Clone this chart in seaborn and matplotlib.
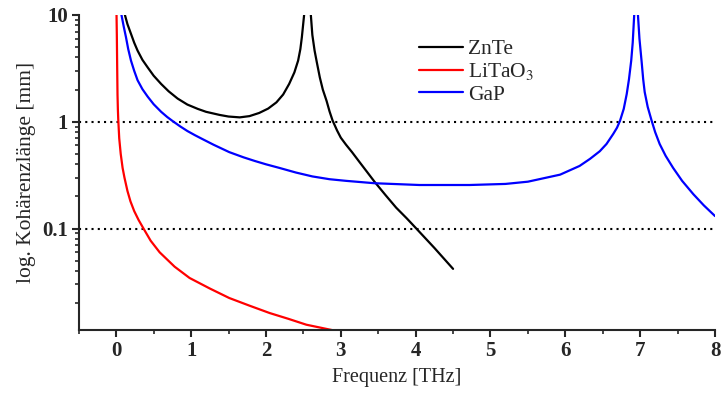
import numpy as np
import pandas as pd
import matplotlib
matplotlib.use("Agg")
import matplotlib.pyplot as plt
import seaborn as sns
from matplotlib.ticker import FixedLocator, FixedFormatter, LogLocator, NullFormatter, MultipleLocator

# ZnTe: two branches around the pole near 2.55 THz
znte_f1 = [0.116, 0.15, 0.197, 0.24, 0.285, 0.35, 0.42, 0.50, 0.60, 0.70, 0.82, 0.95, 1.09, 1.20,
           1.38, 1.50, 1.65, 1.78, 1.91, 2.03, 2.14, 2.23, 2.31, 2.38, 2.43, 2.46, 2.48, 2.51]
znte_l1 = [10.0, 8.2, 6.66, 5.5, 4.64, 3.8, 3.23, 2.7, 2.26, 1.93, 1.65, 1.45, 1.32, 1.24,
           1.16, 1.12, 1.10, 1.13, 1.21, 1.33, 1.52, 1.8, 2.26, 2.9, 3.74, 4.8, 6.2, 10.0]
znte_f2 = [2.60, 2.62, 2.65, 2.68, 2.72, 2.76, 2.81, 2.85, 2.89, 2.95, 3.00, 3.07, 3.15, 3.25,
           3.35, 3.45, 3.60, 3.74, 3.88, 4.01, 4.25, 4.50]
znte_l2 = [10.0, 6.5, 4.64, 3.6, 2.6, 2.0, 1.57, 1.25, 1.03, 0.83, 0.71, 0.61, 0.52, 0.42,
           0.34, 0.275, 0.205, 0.157, 0.125, 0.10, 0.066, 0.042]

# LiTaO3
lt_f = [0.004, 0.008, 0.012, 0.017, 0.022, 0.027, 0.04, 0.06, 0.085, 0.11, 0.15, 0.19, 0.24,
        0.30, 0.365, 0.46, 0.58, 0.78, 0.98, 1.25, 1.51, 1.78, 2.05, 2.3, 2.54, 2.89]
lt_l = [10.0, 6.5, 3.6, 1.8, 1.3, 1.05, 0.70, 0.5, 0.37, 0.30, 0.225, 0.18, 0.146,
        0.12, 0.10, 0.077, 0.060, 0.044, 0.0345, 0.0275, 0.0224, 0.019, 0.0162, 0.0143, 0.0126, 0.0112]

# GaP: two branches around the pole near 6.95 THz
gap_f1 = [0.07, 0.10, 0.13, 0.16, 0.197, 0.24, 0.285, 0.35, 0.42, 0.50, 0.60, 0.68, 0.75, 0.85,
          0.95, 1.05, 1.15, 1.30, 1.51, 1.70, 1.85, 2.00, 2.18, 2.40, 2.62, 2.85, 3.07,
          3.45, 4.05, 4.72, 5.2, 5.5, 5.93, 6.19, 6.33, 6.46, 6.55, 6.64, 6.69, 6.73, 6.78,
          6.82, 6.85, 6.88, 6.90, 6.92]
gap_l1 = [10.0, 7.8, 6.2, 4.8, 3.74, 3.0, 2.45, 2.02, 1.72, 1.46, 1.24, 1.11, 1.02, 0.91,
          0.82, 0.75, 0.69, 0.61, 0.52, 0.465, 0.43, 0.40, 0.37, 0.335, 0.308, 0.29, 0.28,
          0.266, 0.256, 0.256, 0.262, 0.275, 0.32, 0.386, 0.45, 0.53, 0.62, 0.77, 0.88, 1.02, 1.32,
          1.82, 2.5, 3.74, 5.5, 10.0]
gap_f2 = [6.97, 6.99, 7.02, 7.04, 7.06, 7.10, 7.15, 7.20, 7.26, 7.34, 7.44, 7.56, 7.71, 7.85, 8.0]
gap_l2 = [10.0, 6.0, 3.6, 2.5, 1.9, 1.38, 1.04, 0.8, 0.62, 0.48, 0.37, 0.28, 0.21, 0.165, 0.131]

materials = ["ZnTe", "LiTaO$_3$", "GaP"]
colors = {"ZnTe": "black", "LiTaO$_3$": "red", "GaP": "blue"}

x_ticks = [0, 1, 2, 3, 4, 5, 6, 7, 8]
y_ticks = [0.1, 1, 10]
y_tick_labels = ["0.1", "1", "10"]


def build_frame():
    parts = [
        ("ZnTe", "a", znte_f1, znte_l1),
        ("ZnTe", "b", znte_f2, znte_l2),
        ("LiTaO$_3$", "a", lt_f, lt_l),
        ("GaP", "a", gap_f1, gap_l1),
        ("GaP", "b", gap_f2, gap_l2),
    ]
    rows = []
    for name, branch, f, l in parts:
        for xi, yi in zip(f, l):
            rows.append({"material": name, "branch": name + branch, "f": xi, "l": yi})
    return pd.DataFrame(rows)


def main():
    sns.set_style("ticks")
    plt.rcParams["font.family"] = ["Liberation Serif", "DejaVu Serif"]
    plt.rcParams["mathtext.fontset"] = "stix"

    df = build_frame()

    fig = plt.figure(figsize=(7.23, 3.94), dpi=100)
    ax = fig.add_axes([0.109, 0.162, 0.880, 0.800])

    # dotted guide lines at 1 mm and 0.1 mm
    ax.axhline(1, color="black", lw=1.5, ls=(0, (1, 2)), zorder=1)
    ax.axhline(0.1, color="black", lw=1.5, ls=(0, (1, 2)), zorder=1)

    sns.lineplot(data=df, x="f", y="l", hue="material", hue_order=materials,
                 units="branch", estimator=None, sort=False, palette=colors,
                 linewidth=1.6, ax=ax)

    ax.set_yscale("log")
    ax.set_xlim(-0.5, 8)
    ax.set_ylim(0.0112, 10)

    ax.xaxis.set_major_locator(FixedLocator(x_ticks))
    ax.xaxis.set_minor_locator(MultipleLocator(0.5))
    ax.yaxis.set_major_locator(FixedLocator(y_ticks))
    ax.yaxis.set_major_formatter(FixedFormatter(y_tick_labels))
    ax.yaxis.set_minor_locator(LogLocator(base=10, subs=np.arange(2, 10)))
    ax.yaxis.set_minor_formatter(NullFormatter())

    ax.tick_params(which="major", direction="out", length=5, width=1.5, labelsize=15, pad=3)
    ax.tick_params(which="minor", direction="out", length=3, width=1.2)
    for lab in ax.get_xticklabels() + ax.get_yticklabels():
        lab.set_fontweight("bold")

    sns.despine(ax=ax)
    for side in ("left", "bottom"):
        ax.spines[side].set_linewidth(1.5)

    ax.set_xlabel("Frequenz [THz]", fontsize=14.5, labelpad=5)
    ax.set_ylabel("log. Kohärenzlänge [mm]", fontsize=15.5, labelpad=4)

    leg = ax.legend(loc="upper left", bbox_to_anchor=(0.505, 0.985), frameon=False,
                    fontsize=15.5, handlelength=2.0, handletextpad=0.25, labelspacing=0.1)
    for line in leg.get_lines():
        line.set_linewidth(1.6)

    fig.savefig("out.png", dpi=100)
    plt.close(fig)


if __name__ == "__main__":
    main()
